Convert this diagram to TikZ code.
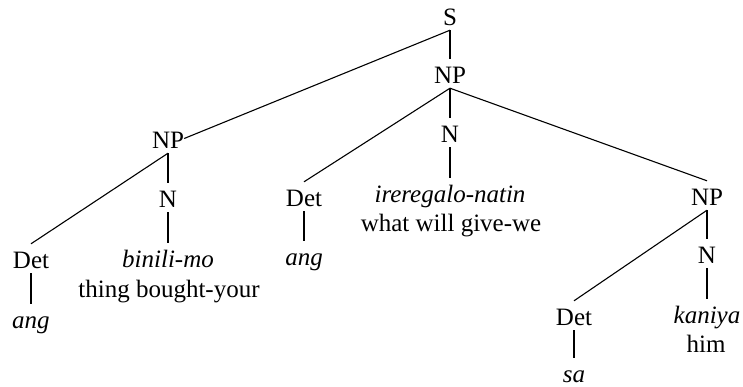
\documentclass[tikz,border=0pt]{standalone}
\usepackage{fontspec}
\setmainfont{Liberation Serif}
\begin{document}
\begin{tikzpicture}[x=1pt,y=-1pt,
  every node/.style={font=\fontsize{25}{30}\selectfont, inner sep=0pt, anchor=base},
  lbl/.style={text height=24pt, text depth=5pt},
  conn/.style={line width=1.1pt}]
\useasboundingbox (0,0) rectangle (743,386);
% nodes
\node[lbl] (s)    at (450,25)  {S};
\node[lbl] (npc)  at (450,83)  {NP};
\node[lbl] (nc)   at (450,142) {N};
\node[lbl] (wc)   at (450,202) {\itshape ireregalo-natin};
\node      (gc)   at (451,231) {what will give-we};
\node[lbl] (npl)  at (168,148) {NP};
\node[lbl] (nl)   at (168,207) {N};
\node[lbl] (wl)   at (168,267) {\itshape binili-mo};
\node      (gl)   at (169,297) {thing bought-your};
\node[lbl] (detl) at (31,268)  {Det};
\node[lbl] (angl) at (31,328)  {\itshape ang};
\node[lbl] (detm) at (304,206) {Det};
\node[lbl] (angm) at (304,265) {\itshape ang};
\node[lbl] (npr)  at (707,205) {NP};
\node[lbl] (nr)   at (707,263) {N};
\node[lbl] (wr)   at (707,323) {\itshape kaniya};
\node      (gr)   at (706,352) {him};
\node[lbl] (detr) at (574,325) {Det};
\node[lbl] (sa)   at (574,382) {\itshape sa};
% connectors
\draw[conn] (s.south) -- (npc.north);
\draw[conn] (s.south) -- (npl.east);
\draw[conn] (npc.south) -- (nc.north);
\draw[conn] (nc.south) -- (wc.north);
\draw[conn] (npc.south) -- (detm.north);
\draw[conn] (npc.south) -- (npr.north);
\draw[conn] (npl.south) -- (detl.north);
\draw[conn] (npl.south) -- (nl.north);
\draw[conn] (nl.south) -- (wl.north);
\draw[conn] (detl.south) -- (angl.north);
\draw[conn] (detm.south) -- (angm.north);
\draw[conn] (npr.south) -- (detr.north);
\draw[conn] (npr.south) -- (nr.north);
\draw[conn] (nr.south) -- (wr.north);
\draw[conn] (detr.south) -- (sa.north);
\end{tikzpicture}
\end{document}
